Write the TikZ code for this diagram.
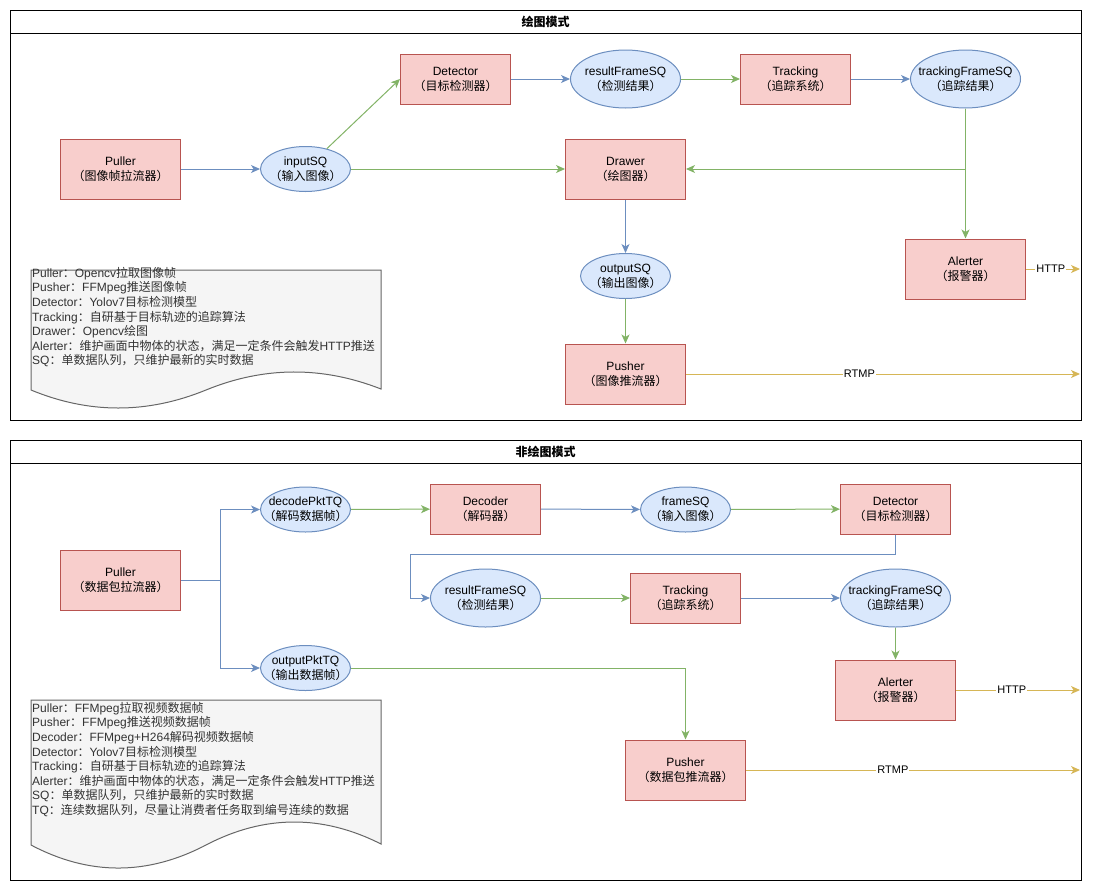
\documentclass[tikz,border=0pt]{standalone}
\usepackage{fontspec}
\setmainfont{Liberation Sans}
\newfontfamily\cjkfont{Noto Sans CJK SC}
\usetikzlibrary{arrows.meta,shapes.geometric}
% automatic font switch for CJK characters
\XeTeXinterchartokenstate=1
\newXeTeXintercharclass\cjkcls
\newcount\cjkcnt
\cjkcnt="3000 \loop \XeTeXcharclass\cjkcnt=\cjkcls \advance\cjkcnt 1 \ifnum\cjkcnt<"3040 \repeat
\cjkcnt="4E00 \loop \XeTeXcharclass\cjkcnt=\cjkcls \advance\cjkcnt 1 \ifnum\cjkcnt<"A000 \repeat
\cjkcnt="FF00 \loop \XeTeXcharclass\cjkcnt=\cjkcls \advance\cjkcnt 1 \ifnum\cjkcnt<"FFF0 \repeat
\XeTeXinterchartoks 0 \cjkcls = {\cjkfont}
\XeTeXinterchartoks 4095 \cjkcls = {\cjkfont}
\XeTeXinterchartoks \cjkcls 0 = {\rmfamily}
\XeTeXinterchartoks \cjkcls 4095 = {\rmfamily}

\definecolor{redfill}{HTML}{F8CECC}
\definecolor{redline}{HTML}{B85450}
\definecolor{bluefill}{HTML}{DAE8FC}
\definecolor{blueline}{HTML}{6C8EBF}
\definecolor{greenline}{HTML}{82B366}
\definecolor{yellowline}{HTML}{D6B656}
\definecolor{notefill}{HTML}{F5F5F5}
\definecolor{noteline}{HTML}{666666}
\definecolor{notetext}{HTML}{333333}

\tikzset{
  txt/.style={font=\fontsize{12}{15}\selectfont, align=center},
  proc/.style={txt, draw=redline, fill=redfill, line width=1pt, inner sep=0pt,
    minimum width=120pt, minimum height=60pt},
  procs/.style={proc, minimum width=110pt, minimum height=50pt},
  queue/.style={ellipse, draw=blueline, fill=bluefill, line width=1pt, inner sep=0pt,
    minimum width=90pt, minimum height=45pt},
  queuew/.style={queue, minimum width=110pt, minimum height=58pt},
  qlab/.style={label={[txt]center:#1}},
  conn/.style={line width=1pt, -{Stealth[length=9pt,width=8pt,inset=2.5pt]}},
  bl/.style={conn, draw=blueline},
  gr/.style={conn, draw=greenline},
  yl/.style={conn, draw=yellowline},
  elab/.style={font=\fontsize{11}{13}\selectfont, fill=white, inner sep=1pt, text=black},
  frame/.style={draw=black, line width=1pt},
  title/.style={font=\fontsize{12}{15}\selectfont\bfseries},
  note/.style={draw=noteline, fill=notefill, line width=1pt},
  notetxt/.style={font=\fontsize{12}{14.6}\selectfont, align=left, text=notetext,
    anchor=north west, inner sep=0pt},
}

\begin{document}
\begin{tikzpicture}[x=1pt,y=-1pt]
\useasboundingbox (0,0) rectangle (1099,892);

% ================= top container =================
\draw[frame] (10,10) rectangle (1081,420);
\draw[frame] (10,33) -- (1081,33);
\node[title] (t1) at (545.5,21.5) {绘图模式};

\node[proc]  (puller1) at (120.5,169) {Puller\\（图像帧拉流器）};
\node[queue, qlab={inputSQ\\（输入图像）}] (in1) at (305.5,169) {};
\node[procs] (det1) at (455.5,79) {Detector\\（目标检测器）};
\node[queuew, qlab={resultFrameSQ\\（检测结果）}] (rfs1) at (625.5,79) {};
\node[procs] (trk1) at (795.5,79) {Tracking\\（追踪系统）};
\node[queuew, qlab={trackingFrameSQ\\（追踪结果）}] (tfs1) at (965.5,79) {};
\node[proc]  (dr1) at (625.5,169) {Drawer\\（绘图器）};
\node[queue, qlab={outputSQ\\（输出图像）}] (out1) at (625.5,276) {};
\node[proc]  (push1) at (625.5,374) {Pusher\\（图像推流器）};
\node[proc]  (al1) at (965.5,269) {Alerter\\（报警器）};
\coordinate (http1) at (1080,269);
\coordinate (rtmp1) at (1080,374);

\draw[bl] (puller1) -- (in1);
\draw[gr] (in1) -- (det1.west);
\draw[gr] (in1) -- (dr1);
\draw[bl] (det1) -- (rfs1);
\draw[gr] (rfs1) -- (trk1);
\draw[bl] (trk1) -- (tfs1);
\draw[gr] (tfs1) -- (al1);
\draw[gr] (tfs1.south) |- (dr1.east);
\draw[bl] (dr1) -- (out1);
\draw[gr] (out1) -- (push1);
\draw[yl] (al1) -- (http1) node[elab, pos=0.46] {HTTP};
\draw[yl] (push1) -- (rtmp1) node[elab, pos=0.44] {RTMP};

% note 1
\draw[note] (31,270) -- (381,270) -- (381,389)
  .. controls (322.3,366) and (264,366.3) .. (206,390)
  .. controls (147.3,414) and (89,414) .. (31,390) -- cycle;
\node[notetxt] (n1) at (32,267) {Puller：Opencv拉取图像帧\\
Pusher：FFMpeg推送图像帧\\
Detector：Yolov7目标检测模型\\
Tracking：自研基于目标轨迹的追踪算法\\
Drawer：Opencv绘图\\
Alerter：维护画面中物体的状态，满足一定条件会触发HTTP推送\\
SQ：单数据队列，只维护最新的实时数据};

% ================= bottom container =================
\draw[frame] (10,440) rectangle (1081,880);
\draw[frame] (10,463) -- (1081,463);
\node[title] (t2) at (545.5,451.5) {非绘图模式};

\node[proc]  (puller2) at (120.5,580) {Puller\\（数据包拉流器）};
\node[queue, qlab={decodePktTQ\\（解码数据帧）}] (dpq) at (305.5,509.5) {};
\node[queue, qlab={outputPktTQ\\（输出数据帧）}] (opq) at (305.5,668) {};
\node[procs] (dec2) at (485.5,509) {Decoder\\（解码器）};
\node[queue, qlab={frameSQ\\（输入图像）}] (fsq) at (685.5,509.5) {};
\node[procs] (det2) at (895.5,509) {Detector\\（目标检测器）};
\node[queuew, qlab={resultFrameSQ\\（检测结果）}] (rfs2) at (485.5,598) {};
\node[procs] (trk2) at (685.5,598) {Tracking\\（追踪系统）};
\node[queuew, qlab={trackingFrameSQ\\（追踪结果）}] (tfs2) at (895.5,598) {};
\node[proc]  (al2) at (895.5,690) {Alerter\\（报警器）};
\node[proc]  (push2) at (685.5,770) {Pusher\\（数据包推流器）};
\coordinate (split2) at (220,580);
\coordinate (http2) at (1080,690);
\coordinate (rtmp2) at (1080,770);

\draw[bl] (puller2.east) -- (split2) |- (dpq);
\draw[bl] (puller2.east) -- (split2) |- (opq);
\draw[gr] (dpq) -- (dec2);
\draw[bl] (dec2) -- (fsq);
\draw[gr] (fsq) -- (det2);
\draw[bl] (det2.south) -- (895.5,554) -- (410.5,554) |- (rfs2);
\draw[gr] (rfs2) -- (trk2);
\draw[bl] (trk2) -- (tfs2);
\draw[gr] (tfs2) -- (al2);
\draw[gr] (opq) -| (push2);
\draw[yl] (al2) -- (http2) node[elab, pos=0.45] {HTTP};
\draw[yl] (push2) -- (rtmp2) node[elab, pos=0.44] {RTMP};

% note 2
\draw[note] (31,700) -- (381,700) -- (381,844)
  .. controls (322.3,814.3) and (264,814.7) .. (206,845)
  .. controls (147.3,875.7) and (89,875.7) .. (31,845) -- cycle;
\node[notetxt] (n2) at (32,702) {Puller：FFMpeg拉取视频数据帧\\
Pusher：FFMpeg推送视频数据帧\\
Decoder：FFMpeg+H264解码视频数据帧\\
Detector：Yolov7目标检测模型\\
Tracking：自研基于目标轨迹的追踪算法\\
Alerter：维护画面中物体的状态，满足一定条件会触发HTTP推送\\
SQ：单数据队列，只维护最新的实时数据\\
TQ：连续数据队列，尽量让消费者任务取到编号连续的数据};
\end{tikzpicture}
\end{document}
